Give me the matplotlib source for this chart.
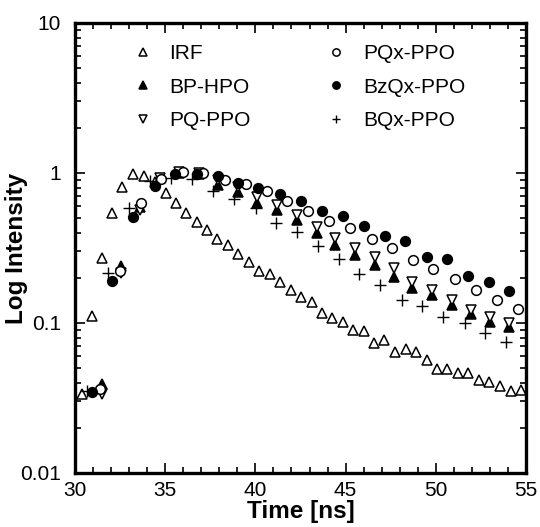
import matplotlib
matplotlib.use("Agg")
import matplotlib.pyplot as plt
import numpy as np
from matplotlib.ticker import LogLocator, MultipleLocator, FixedLocator, FixedFormatter, NullFormatter

plt.rcParams['font.family'] = ['Liberation Sans', 'DejaVu Sans']

# ---- data ----
irf_t = [30.37, 30.94, 31.52, 32.05, 32.61, 33.22, 33.82, 34.43, 35.04, 35.60, 36.15,
         36.76, 37.32, 37.87, 38.48, 39.04, 39.65, 40.20, 40.81, 41.36, 41.97, 42.53,
         43.14, 43.69, 44.25, 44.86, 45.41, 46.02, 46.57, 47.13, 47.74, 48.35, 48.90,
         49.51, 50.07, 50.62, 51.23, 51.78, 52.39, 52.95, 53.56, 54.17, 54.72]
irf_i = [0.0336, 0.111, 0.27, 0.54, 0.81, 0.98, 0.95, 0.87, 0.74, 0.63, 0.54,
         0.47, 0.417, 0.363, 0.331, 0.288, 0.255, 0.222, 0.212, 0.188, 0.166, 0.149,
         0.138, 0.117, 0.108, 0.102, 0.090, 0.0885, 0.0736, 0.077, 0.064, 0.067, 0.064,
         0.0566, 0.0494, 0.0494, 0.0464, 0.0464, 0.0417, 0.0404, 0.038, 0.0352, 0.036]

tri_t = [31.50, 32.55, 33.60, 34.71, 35.76, 36.87, 37.93, 39.04, 40.09, 41.20, 42.31,
         43.41, 44.41, 45.52, 46.63, 47.68, 48.68, 49.79, 50.90, 51.95, 53.00, 54.06]
bphpo_i = [0.0392, 0.240, 0.594, 0.926, 1.0, 0.985, 0.832, 0.747, 0.631, 0.567, 0.486,
           0.398, 0.331, 0.284, 0.244, 0.203, 0.171, 0.154, 0.132, 0.115, 0.102, 0.094]
pqppo_i = [0.0336, 0.215, 0.567, 0.926, 1.016, 1.0, 0.90, 0.807, 0.692, 0.612, 0.525,
           0.437, 0.369, 0.316, 0.275, 0.233, 0.188, 0.166, 0.142, 0.122, 0.110, 0.100]

pqx_t = [31.39, 32.49, 33.66, 34.77, 35.99, 37.10, 38.31, 39.48, 40.64, 41.75, 42.92,
         44.08, 45.25, 46.46, 47.57, 48.73, 49.84, 51.06, 52.23, 53.39, 54.56]
pqx_i = [0.0363, 0.222, 0.631, 0.912, 1.016, 1.0, 0.90, 0.845, 0.759, 0.65, 0.558,
         0.479, 0.430, 0.363, 0.316, 0.263, 0.229, 0.197, 0.166, 0.142, 0.124]

bzqx_t = [30.93, 32.05, 33.22, 34.43, 35.54, 36.76, 37.93, 39.04, 40.14, 41.36, 42.53,
          43.69, 44.86, 46.02, 47.18, 48.29, 49.51, 50.62, 51.78, 52.95, 54.06]
bzqx_i = [0.0347, 0.19, 0.51, 0.82, 0.98, 0.98, 0.955, 0.86, 0.79, 0.72, 0.65,
          0.558, 0.517, 0.443, 0.38, 0.352, 0.275, 0.267, 0.206, 0.188, 0.163]

bqx_t = [30.67, 31.83, 32.99, 34.16, 35.32, 36.49, 37.65, 38.81, 40.03, 41.14, 42.31,
         43.47, 44.63, 45.74, 46.91, 48.13, 49.24, 50.40, 51.62, 52.73, 53.89]
bqx_i = [0.035, 0.215, 0.585, 0.885, 0.926, 0.912, 0.759, 0.671, 0.585, 0.464, 0.404,
         0.326, 0.267, 0.212, 0.179, 0.142, 0.130, 0.110, 0.100, 0.0858, 0.0747]

x_ticks = [30, 35, 40, 45, 50, 55]
y_ticks = [0.01, 0.1, 1, 10]
y_tick_labels = ['0.01', '0.1', '1', '10']

# ---- figure ----
fig = plt.figure(figsize=(5.40, 5.27), dpi=100)
ax = fig.add_axes([75/540, 54/527, 451/540, 450/527])

ms = 7
mew = 1.1
ax.plot(irf_t, irf_i, ls='none', marker='^', ms=ms, mfc='white', mec='black', mew=mew, label='IRF')
ax.plot(tri_t, bphpo_i, ls='none', marker='^', ms=ms, mfc='black', mec='black', mew=mew, label='BP-HPO')
ax.plot(tri_t, pqppo_i, ls='none', marker='v', ms=ms, mfc='white', mec='black', mew=mew, label='PQ-PPO')
ax.plot(pqx_t, pqx_i, ls='none', marker='o', ms=ms, mfc='white', mec='black', mew=mew, label='PQx-PPO')
ax.plot(bzqx_t, bzqx_i, ls='none', marker='o', ms=ms, mfc='black', mec='black', mew=mew, label='BzQx-PPO')
ax.plot(bqx_t, bqx_i, ls='none', marker='+', ms=ms+1, mec='black', mew=1.0, label='BQx-PPO')

ax.set_yscale('log')
ax.set_xlim(30, 55)
ax.set_ylim(0.01, 10)

ax.xaxis.set_major_locator(FixedLocator(x_ticks))
ax.xaxis.set_minor_locator(MultipleLocator(1))
ax.yaxis.set_major_locator(FixedLocator(y_ticks))
ax.yaxis.set_major_formatter(FixedFormatter(y_tick_labels))
ax.yaxis.set_minor_locator(LogLocator(base=10, subs=np.arange(2, 10)))
ax.yaxis.set_minor_formatter(NullFormatter())

ax.tick_params(which='both', direction='in', top=True, right=True, labelsize=15, width=1.2)
ax.tick_params(which='major', length=7)
ax.tick_params(axis='y', which='major', pad=10)
ax.tick_params(axis='x', which='major', pad=6)
ax.tick_params(which='minor', length=4)

for s in ax.spines.values():
    s.set_linewidth(2.4)

ax.set_xlabel('Time [ns]', fontsize=17.5, fontweight='bold', labelpad=0)
ax.set_ylabel('Log Intensity', fontsize=17.5, fontweight='bold')
ax.yaxis.set_label_coords(-0.104, 0.5)

ax.legend(loc='upper left', bbox_to_anchor=(0.085, 0.995), ncol=2, frameon=False,
          fontsize=15, markerscale=0.75, handlelength=1.0, handletextpad=0.8,
          columnspacing=3.6, labelspacing=0.7, numpoints=1)

fig.savefig('out.png', dpi=100)
